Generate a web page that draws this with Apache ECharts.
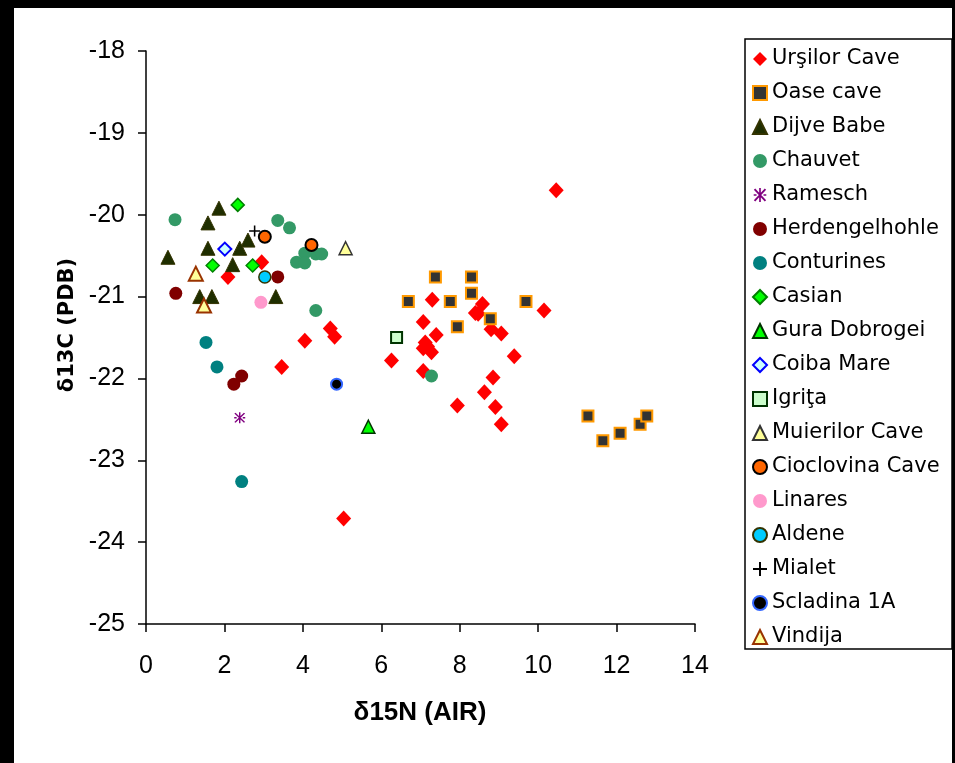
<!DOCTYPE html>
<html><head><meta charset="utf-8">
<script src="https://cdn.jsdelivr.net/npm/echarts@6/dist/echarts.min.js"></script>
<style>html,body{margin:0;padding:0;background:#fff}#c{width:955px;height:763px}</style>
</head><body><div id="c"></div>
<script>
// Data: [δ15N, δ13C]
const ursilor = [[10.46,-19.70],[10.15,-21.17],[2.95,-20.58],[2.09,-20.76],[4.05,-21.54],[4.70,-21.39],[4.81,-21.49],[3.46,-21.86],[5.04,-23.71],[6.26,-21.78],[7.30,-21.04],[7.07,-21.31],[8.58,-21.09],[8.40,-21.20],[8.47,-21.21],[7.40,-21.47],[7.12,-21.56],[7.07,-21.63],[7.28,-21.68],[7.18,-21.61],[7.07,-21.91],[7.94,-22.33],[8.85,-21.99],[8.63,-22.17],[8.91,-22.35],[9.06,-22.56],[9.39,-21.73],[8.80,-21.40],[9.06,-21.45]];
const oase = [[7.38,-20.76],[8.30,-20.76],[8.30,-20.96],[6.69,-21.06],[7.76,-21.06],[9.69,-21.06],[8.78,-21.27],[7.94,-21.37],[11.27,-22.46],[11.65,-22.76],[12.09,-22.67],[12.60,-22.56],[12.77,-22.46]];
const dijveBabe = [[1.86,-19.92],[1.58,-20.10],[0.56,-20.52],[1.58,-20.41],[2.60,-20.31],[2.39,-20.41],[2.21,-20.61],[1.37,-21.00],[1.68,-21.00],[3.31,-21.00]];
const chauvet = [[0.74,-20.06],[3.36,-20.07],[3.66,-20.16],[4.05,-20.47],[3.84,-20.58],[4.05,-20.59],[4.33,-20.48],[4.48,-20.48],[4.33,-21.17],[7.28,-21.97]];
const ramesch = [[2.39,-22.48]];
const herdengelhohle = [[0.76,-20.96],[3.36,-20.76],[2.44,-21.97],[2.24,-22.07]];
const conturines = [[1.53,-21.56],[1.81,-21.86],[2.44,-23.26]];
const casian = [[2.34,-19.88],[1.70,-20.62],[2.72,-20.62]];
const guraDobrogei = [[5.67,-22.59]];
const coibaMare = [[2.01,-20.42]];
const igrita = [[6.39,-21.50]];
const muierilor = [[5.09,-20.41]];
const cioclovina = [[3.03,-20.27],[4.22,-20.37]];
const linares = [[2.93,-21.07]];
const aldene = [[3.03,-20.76]];
const mialet = [[2.77,-20.20]];
const scladina = [[4.86,-22.07]];
const vindija = [[1.27,-20.72],[1.48,-21.11]];

const xTicks = [0,2,4,6,8,10,12,14];
const yTicks = [-25,-24,-23,-22,-21,-20,-19,-18];

const ASTER = 'path://M4.4,0 L5.6,0 L5.6,10 L4.4,10 Z M0.6,1.2 L1.6,0.4 L9.4,8.8 L8.4,9.6 Z M8.4,0.4 L9.4,1.2 L1.6,9.6 L0.6,8.8 Z M0.5,4.4 L2.5,4.4 L2.5,5.6 L0.5,5.6 Z M7.5,4.4 L9.5,4.4 L9.5,5.6 L7.5,5.6 Z';
const PLUS = 'path://M4.3,0 L5.7,0 L5.7,4.3 L10,4.3 L10,5.7 L5.7,5.7 L5.7,10 L4.3,10 L4.3,5.7 L0,5.7 L0,4.3 L4.3,4.3 Z';

function s(name, data, symbol, size, color, borderColor, borderWidth){
  return {
    name, type:'scatter', data, symbol, symbolSize:size,
    itemStyle:{color, borderColor: borderColor||color, borderWidth: borderWidth||0, opacity:1},
    emphasis:{disabled:true}
  };
}
const series = [
  s('Urşilor Cave', ursilor, 'diamond', [15,16], '#ff0000'),
  s('Oase cave', oase, 'rect', 11, '#333333', '#ff9900', 2),
  s('Dijve Babe', dijveBabe, 'triangle', 14, '#1f2e00', '#333300', 1),
  s('Chauvet', chauvet, 'circle', 13, '#339966'),
  s('Ramesch', ramesch, ASTER, 11, '#800080'),
  s('Herdengelhohle', herdengelhohle, 'circle', 13, '#800000'),
  s('Conturines', conturines, 'circle', 13, '#008080'),
  s('Casian', casian, 'diamond', 13, '#00ff00', '#008000', 1.5),
  s('Gura Dobrogei', guraDobrogei, 'triangle', 13, '#00ff00', '#003300', 1.5),
  s('Coiba Mare', coibaMare, 'diamond', 13, '#ccffff', '#0000ff', 2),
  s('Igriţa', igrita, 'rect', 11, '#ccffcc', '#003300', 2),
  s('Muierilor Cave', muierilor, 'triangle', 13, '#ffff99', '#333333', 1.5),
  s('Cioclovina Cave', cioclovina, 'circle', 12, '#ff6600', '#000000', 2),
  s('Linares', linares, 'circle', 13, '#ff99cc'),
  s('Aldene', aldene, 'circle', 12, '#00ccff', '#333300', 1.5),
  s('Mialet', mialet, PLUS, 11, '#000000'),
  s('Scladina 1A', scladina, 'circle', 11, '#000000', '#3366ff', 2),
  s('Vindija', vindija, 'triangle', 14, '#ffff99', '#993300', 2)
];

const chart = echarts.init(document.getElementById('c'), null, {renderer:'canvas'});
chart.setOption({
  animation:false,
  backgroundColor:'#ffffff',
  grid:{left:146, top:51, width:549, height:573, containLabel:false},
  xAxis:{type:'value', min:xTicks[0], max:xTicks[xTicks.length-1], interval:2,
    axisLine:{show:true, onZero:false, lineStyle:{color:'#000', width:1.5}},
    axisTick:{show:true, length:8, inside:false, lineStyle:{color:'#000', width:1.5}},
    axisLabel:{color:'#000', fontFamily:'Liberation Sans', fontSize:25, margin:30},
    splitLine:{show:false}},
  yAxis:{type:'value', min:yTicks[0], max:yTicks[yTicks.length-1], interval:1,
    axisLine:{show:true, onZero:false, lineStyle:{color:'#000', width:1.5}},
    axisTick:{show:true, length:8, inside:false, lineStyle:{color:'#000', width:1.5}},
    axisLabel:{color:'#000', fontFamily:'Liberation Sans', fontSize:25, margin:21},
    splitLine:{show:false}},
  legend:{orient:'vertical', left:752, top:48, padding:0, itemGap:12,
    itemWidth:14, itemHeight:14,
    textStyle:{fontFamily:'DejaVu Sans', fontSize:21, color:'#000', lineHeight:22},
    selectedMode:false,
    data:series.map(x=>x.name)},
  graphic:[
    {type:'rect', shape:{x:0,y:0,width:14,height:763}, style:{fill:'#000'}, silent:true},
    {type:'rect', shape:{x:0,y:0,width:955,height:8}, style:{fill:'#000'}, silent:true},
    {type:'rect', shape:{x:952,y:0,width:3,height:763}, style:{fill:'#000'}, silent:true},
    {type:'rect', shape:{x:745,y:39,width:207,height:610}, style:{fill:'none', stroke:'#000', lineWidth:1.5}, silent:true, z:-1},
    {type:'text', x:68, y:325, rotation:Math.PI/2, style:{text:'δ13C (PDB)', font:'bold 21px "DejaVu Sans"', fill:'#000', textAlign:'center', textVerticalAlign:'middle'}, silent:true},
    {type:'text', x:420, y:713, style:{text:'δ15N (AIR)', font:'bold 26px "Liberation Sans"', fill:'#000', textAlign:'center', textVerticalAlign:'middle'}, silent:true}
  ],
  series
});
</script></body></html>
